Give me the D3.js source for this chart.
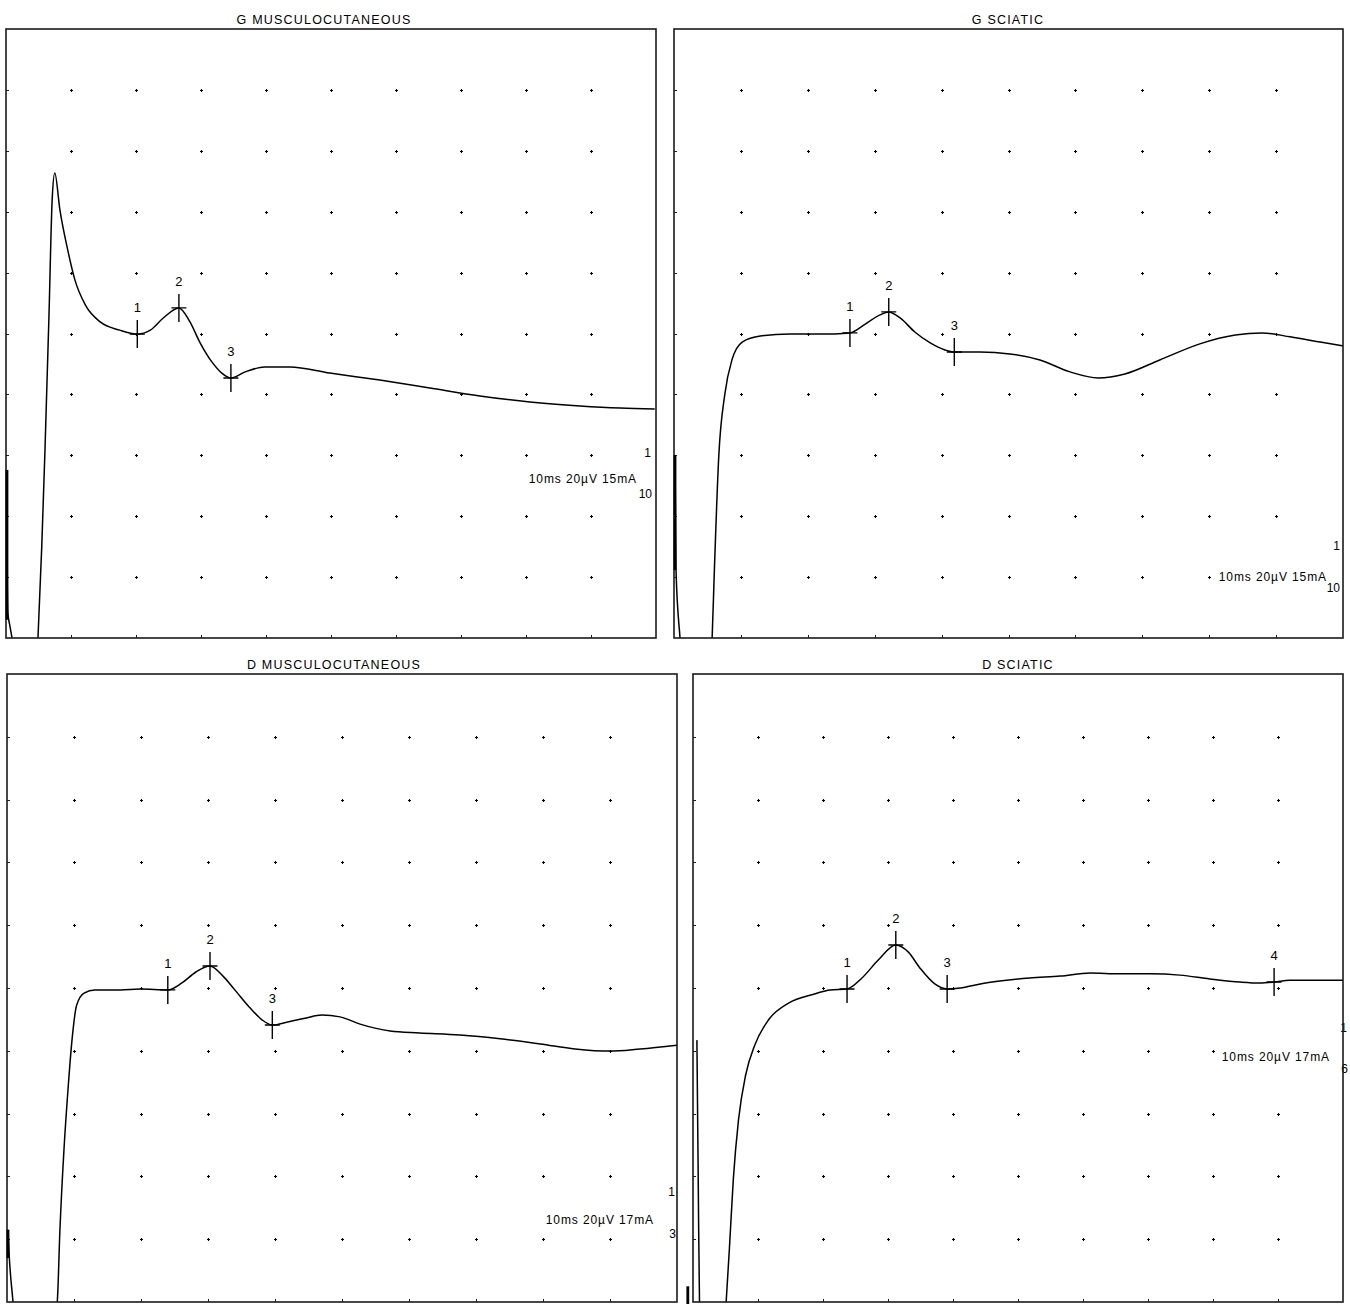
<!DOCTYPE html>
<html><head><meta charset="utf-8">
<script src="https://cdn.jsdelivr.net/npm/d3@7"></script>
<style>
html,body{margin:0;padding:0;background:#fff;}
svg{display:block;}
text{font-family:"Liberation Sans",Arial,sans-serif;fill:#111;}
</style></head>
<body>
<svg id="chart" width="1350" height="1304"></svg>
<script>
// ---------- DATA (time in ms, amplitude in µV) ----------
const titles = ["G MUSCULOCUTANEOUS", "G SCIATIC", "D MUSCULOCUTANEOUS", "D SCIATIC"];
const settingText = ["10ms 20µV 15mA", "10ms 20µV 15mA", "10ms 20µV 17mA", "10ms 20µV 17mA"];
const settingTop = ["1", "1", "1", "1"];
const settingBottom = ["10", "10", "3", "6"];
const timeDomain = [0, 100];   // 10 ms / division
const ampDomain = [-100, 100]; // 20 µV / division

// G MUSCULOCUTANEOUS
const gMuscT = [0.15, 0.2, 0.3, 0.6, 1.0, 2.5, 4.0, 4.9, 5.5, 6.0, 6.6, 7.1, 7.5, 8.3, 9.5, 10.6, 12.2, 14.5, 17.5, 20.2, 22.2, 24.2, 26.6, 28.3, 29.8, 31.7, 33.2, 34.6, 36.8, 39.8, 43.7, 49.8, 57.5, 65.2, 72.9, 80.6, 88.3, 94.5, 99.8];
const gMuscV = [-44.8, -80, -92, -96, -101, -130, -130, -101, -70, -38, 5, 43.8, 52.7, 40.5, 27.4, 17.6, 9.4, 3.8, 1.1, -0.2, 1.1, 5.1, 8.4, 3.8, -2.8, -9.4, -13, -14.6, -12.6, -11, -11, -13, -15.3, -17.9, -20.5, -22.5, -23.8, -24.5, -24.8];
const gMuscArtT = [0.15, 0.15];
const gMuscArtV = [-44.8, -94];
const gMuscMarkT = [20.2, 26.6, 34.6];
const gMuscMarkV = [-0.2, 8.4, -14.6];

// G SCIATIC
const gSciT = [0.15, 0.3, 0.9, 2.5, 4.5, 5.7, 6.0, 6.7, 7.6, 8.7, 10.2, 12.9, 17.3, 21.8, 26.3, 28.6, 30.8, 32.1, 33.8, 36.0, 38.3, 40.5, 41.9, 45.7, 50.2, 54.7, 59.2, 63.4, 67.4, 72.6, 78.6, 83.9, 87.9, 92.1, 96.6, 100];
const gSciV = [-39.9, -77.7, -100, -130, -130, -100, -80, -40, -19.9, -8.4, -2.8, -0.8, -0.2, -0.2, 0.2, 3.1, 6.1, 7.1, 5.1, 0.5, -3.1, -5.4, -6.1, -6.1, -6.7, -8.7, -12.6, -14.6, -13.3, -8.7, -3.4, -0.5, 0.2, -1.1, -2.8, -4.1];
const gSciArtT = [0.15, 0.15];
const gSciArtV = [-39.9, -77.7];
const gSciMarkT = [26.3, 32.1, 41.9];
const gSciMarkV = [0.2, 7.1, -6.1];

// D MUSCULOCUTANEOUS
const dMuscT = [0.15, 0.3, 0.9, 2.5, 5.0, 7.5, 7.9, 8.5, 9.1, 9.7, 10.4, 11.5, 13.1, 16.9, 19.9, 24.0, 26.1, 28.2, 30.3, 32.1, 34.0, 36.3, 38.1, 39.6, 41.9, 44.5, 47.0, 49.7, 52.7, 57.2, 61.6, 67.6, 73.6, 79.6, 84.8, 90.0, 94.5, 100];
const dMuscV = [-77, -84, -100, -130, -130, -100, -77, -51.6, -32.5, -16.6, -5.4, -1.6, -0.6, -0.6, -0.3, -0.6, 1.6, 5.1, 7.0, 4.1, -0.6, -6.4, -10.2, -11.8, -10.8, -9.6, -8.6, -9.2, -11.5, -13.7, -14.3, -15.0, -16.2, -17.8, -19.4, -20.1, -19.4, -18.2];
const dMuscArtT = [0.15, 0.15];
const dMuscArtV = [-77, -86];
const dMuscMarkT = [24.0, 30.3, 39.6];
const dMuscMarkV = [-0.6, 7.0, -11.8];

// D SCIATIC
const dSciT = [0.6, 0.8, 1.0, 2.5, 4.0, 5.1, 5.6, 6.2, 7.0, 8.1, 9.5, 11.6, 14.7, 18.7, 21.1, 23.7, 26.0, 28.5, 31.2, 33.1, 34.9, 37.2, 39.1, 41.1, 44.2, 47.2, 51.8, 56.5, 61.1, 65.7, 70.3, 74.9, 79.5, 84.2, 87.2, 89.4, 91.8, 96.5, 100];
const dSciV = [-16.6, -60, -100, -130, -130, -100, -83, -61, -42, -27.7, -18.2, -10.2, -4.8, -1.9, -0.6, -0.3, 3.2, 8.9, 13.7, 11.5, 6.4, 1.3, -0.3, 0, 1.3, 2.2, 3.2, 3.8, 4.8, 4.5, 4.5, 4.1, 2.9, 1.9, 1.6, 1.9, 2.5, 2.5, 2.5];
const dSciArtT = [-0.8, -0.8];
const dSciArtV = [-95, -101];
const dSciMarkT = [23.7, 31.2, 39.1, 89.4];
const dSciMarkV = [-0.3, 13.7, -0.3, 1.9];

// ---------- LAYOUT ----------
const frames = [
  {x: 6,   y: 29,  w: 650, h: 609, tx: 324,  ty: 24},
  {x: 674, y: 29,  w: 669, h: 609, tx: 1008, ty: 24},
  {x: 7,   y: 674, w: 670, h: 628, tx: 334,  ty: 669},
  {x: 693, y: 674, w: 650, h: 628, tx: 1018, ty: 669}
];
const annot = [
  {right: 637, base: 483, supX: 651, supY: 457, subX: 652, subY: 498},
  {right: 1327, base: 581, supX: 1340, supY: 550, subX: 1340, subY: 592},
  {right: 654, base: 1224, supX: 675, supY: 1196, subX: 676, subY: 1238},
  {right: 1330, base: 1061, supX: 1347, supY: 1032, subX: 1348, subY: 1073}
];

const svg = d3.select("#chart");
svg.append("rect").attr("width", 1350).attr("height", 1304).attr("fill", "#fff");

const series = [
  [gMuscT, gMuscV, gMuscArtT, gMuscArtV, gMuscMarkT, gMuscMarkV],
  [gSciT, gSciV, gSciArtT, gSciArtV, gSciMarkT, gSciMarkV],
  [dMuscT, dMuscV, dMuscArtT, dMuscArtV, dMuscMarkT, dMuscMarkV],
  [dSciT, dSciV, dSciArtT, dSciArtV, dSciMarkT, dSciMarkV]
];

frames.forEach((f, k) => {
  const [T, V, aT, aV, mT, mV] = series[k];
  const x = d3.scaleLinear().domain(timeDomain).range([f.x, f.x + f.w]);
  const y = d3.scaleLinear().domain(ampDomain).range([f.y + f.h, f.y]);
  const g = svg.append("g");

  const cid = "clip" + k;
  svg.append("clipPath").attr("id", cid).append("rect")
    .attr("x", f.x).attr("y", f.y).attr("width", f.w).attr("height", f.h);

  // title
  g.append("text").attr("x", f.tx).attr("y", f.ty).attr("text-anchor", "middle")
    .attr("font-size", 12.5).attr("letter-spacing", "1.2px").style("fill", "#000").text(titles[k]);

  // dot grid
  const gx = d3.range(10, 100, 10), gy = d3.range(-80, 100, 20);
  const dots = [];
  gx.forEach(t => gy.forEach(v => dots.push([t, v])));
  g.append("path")
    .attr("d", dots.map(([t, v]) => {
      const px = Math.round(x(t)) + 0.5, py = Math.round(y(v)) + 0.5;
      return `M${px - 1.5},${py}h3M${px},${py - 1.5}v3`;
    }).join(""))
    .attr("stroke", "#000").attr("stroke-width", 1.1).attr("fill", "none");
  // edge ticks
  g.append("path")
    .attr("d", gx.map(t => `M${Math.round(x(t)) + 0.5},${f.y + f.h}v-3`).join("") +
               gy.map(v => `M${f.x},${Math.round(y(v)) + 0.5}h3`).join(""))
    .attr("stroke", "#222").attr("stroke-width", 1);

  // settings annotation (white box hides grid dots under the text)
  const a = annot[k];
  const bg = g.append("rect").attr("fill", "#fff");
  const st = g.append("text").attr("x", a.right).attr("y", a.base).attr("text-anchor", "end")
    .attr("font-size", 12).attr("letter-spacing", "0.9px").style("fill", "#000").text(settingText[k]);
  const bb = st.node().getBBox();
  bg.attr("x", bb.x + 2).attr("y", bb.y).attr("width", bb.width - 2).attr("height", bb.height);
  g.append("text").attr("x", a.supX).attr("y", a.supY).attr("text-anchor", "end")
    .attr("font-size", 12).style("fill", "#000").text(settingTop[k]);
  g.append("text").attr("x", a.subX).attr("y", a.subY).attr("text-anchor", "end")
    .attr("font-size", 12).style("fill", "#000").text(settingBottom[k]);

  // trace
  const pts = T.map((t, i) => [t, V[i]]);
  const line = d3.line().x(d => x(d[0])).y(d => y(d[1])).curve(d3.curveMonotoneX);
  const cg = g.append("g").attr("clip-path", `url(#${cid})`);
  cg.append("path").attr("d", line(pts)).attr("fill", "none")
    .attr("stroke", "#000").attr("stroke-width", 1.5).attr("stroke-linejoin", "round");
  // stimulus artifact (heavy)
  const art = aT.map((t, i) => [t, aV[i]]);
  svg.append("path").attr("d", d3.line().x(d => x(d[0])).y(d => y(d[1]))(art))
    .attr("fill", "none").attr("stroke", "#000").attr("stroke-width", 2.8);

  // markers
  mT.forEach((t, i) => {
    const px = x(t), py = y(mV[i]);
    g.append("path").attr("d", `M${px},${py - 14}v28M${px - 7.5},${py}h15`)
      .attr("stroke", "#000").attr("stroke-width", 1.4).attr("fill", "none");
    g.append("text").attr("x", px).attr("y", py - 22).attr("text-anchor", "middle")
      .attr("font-size", 13).style("fill", "#000").text(String(i + 1));
  });

  // frame
  g.append("rect").attr("x", f.x).attr("y", f.y).attr("width", f.w).attr("height", f.h)
    .attr("fill", "none").attr("stroke", "#1a1a1a").attr("stroke-width", 1.6);
});
</script>
</body></html>
